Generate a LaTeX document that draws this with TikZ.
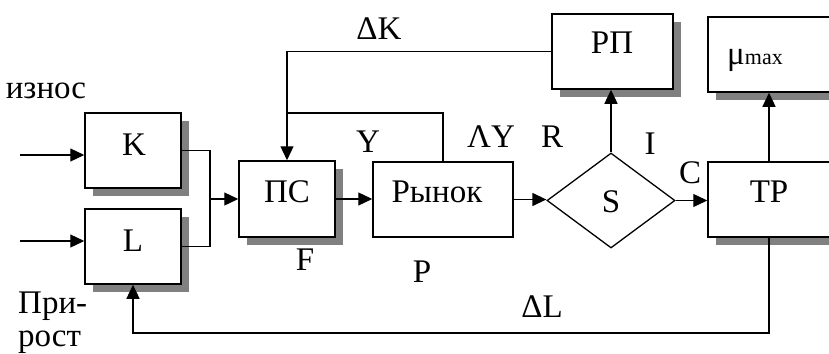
\documentclass[tikz,border=0pt]{standalone}
\usepackage{fontspec}
\setmainfont{Liberation Serif}
\usetikzlibrary{arrows.meta,shapes.geometric,shadows}
\definecolor{shd}{RGB}{128,128,128}
\begin{document}
\begin{tikzpicture}[x=1pt,y=-1pt,
  box/.style={draw,line width=1.5pt,fill=white,inner sep=0pt},
  shbox/.style={box,drop shadow={shadow xshift=8pt,shadow yshift=-8pt,fill=shd,opacity=1}},
  conn/.style={line width=1.3pt},
  arr/.style={conn,-{Triangle[length=14pt,width=13pt]}},
  txt/.style={inner sep=0pt,anchor=base,font=\fontsize{33}{38}\selectfont},
  ltxt/.style={txt,anchor=base west}]
\useasboundingbox (0,0) rectangle (829,353);
% boxes
\node[shbox,minimum width=96pt,minimum height=75pt] (K) at (133,150.5) {};
\node[shbox,minimum width=96pt,minimum height=75pt] (L) at (133,246.5) {};
\node[shbox,minimum width=96pt,minimum height=76pt] (PS) at (287,199) {};
\node[box,minimum width=140pt,minimum height=75pt] (Ryn) at (443,199.5) {};
\node[shbox,minimum width=121pt,minimum height=75pt] (RP) at (612.5,51.5) {};
\node[shbox,minimum width=140pt,minimum height=75pt] (MU) at (778,54.5) {};
\node[shbox,minimum width=140pt,minimum height=75pt] (TP) at (778,199.5) {};
\node[draw,diamond,line width=1.3pt,minimum width=128pt,minimum height=95pt,inner sep=0pt] (S) at (611,200.5) {};
% box texts
\node[txt] (Kt) at (134,155) {K};
\node[txt] (Lt) at (133,251) {L};
\node[txt] (PSt) at (287,202) {ПС};
\node[txt] (Rynt) at (437,202) {Рынок};
\node[txt] (St) at (611,212) {S};
\node[txt] (RPt) at (612,54) {РП};
\node[txt] (TPt) at (769,202) {TP};
\node[ltxt] (MUt) at (727,64) {μ{\fontsize{22}{24}\selectfont max}};
% free labels
\node[txt] (iznos) at (46,98) {износ};
\node[ltxt] (pri) at (18,313) {При-};
\node[ltxt] (rost) at (18,346) {рост};
\node[txt] (dK) at (379,40) {ΔK};
\node[txt] (Yl) at (368,152) {Y};
\node[txt] (dY) at (491,147) {ΛY};
\node[txt] (Rl) at (552,147) {R};
\node[txt] (Il) at (650,154) {I};
\node[txt] (Cl) at (690,183) {C};
\node[txt] (Fl) at (305,270) {F};
\node[txt] (Pl) at (422,282) {P};
\node[txt] (dL) at (542,317) {ΔL};
% coordinates
\coordinate (inK) at (20,155);
\coordinate (inL) at (20,241);
\coordinate (j) at (210,199);
\coordinate (yk) at (287,113);
\coordinate (dl) at (769,333);
% connectors
\draw[arr] (inK) -- (inK -| K.west);
\draw[arr] (inL) -- (inL -| L.west);
\draw[conn] (K.east) -| (j) |- (L.east);
\draw[arr] (j) -- (j -| PS.west);
\draw[arr] (PS.east) -- (PS.east -| Ryn.west);
\draw[arr] (Ryn.east) -- (Ryn.east -| S.west);
\draw[arr] (S.east) -- (S.east -| TP.west);
\draw[arr] (S.north) -- (S.north |- RP.south);
\draw[arr] (RP.west) -| (PS.north);
\draw[conn] (Ryn.north) |- (yk);
\draw[arr] (TPt |- TP.north) -- (TPt |- MU.south);
\draw[arr] (TPt |- TP.south) -- (dl) -| (L.south);
\end{tikzpicture}
\end{document}
